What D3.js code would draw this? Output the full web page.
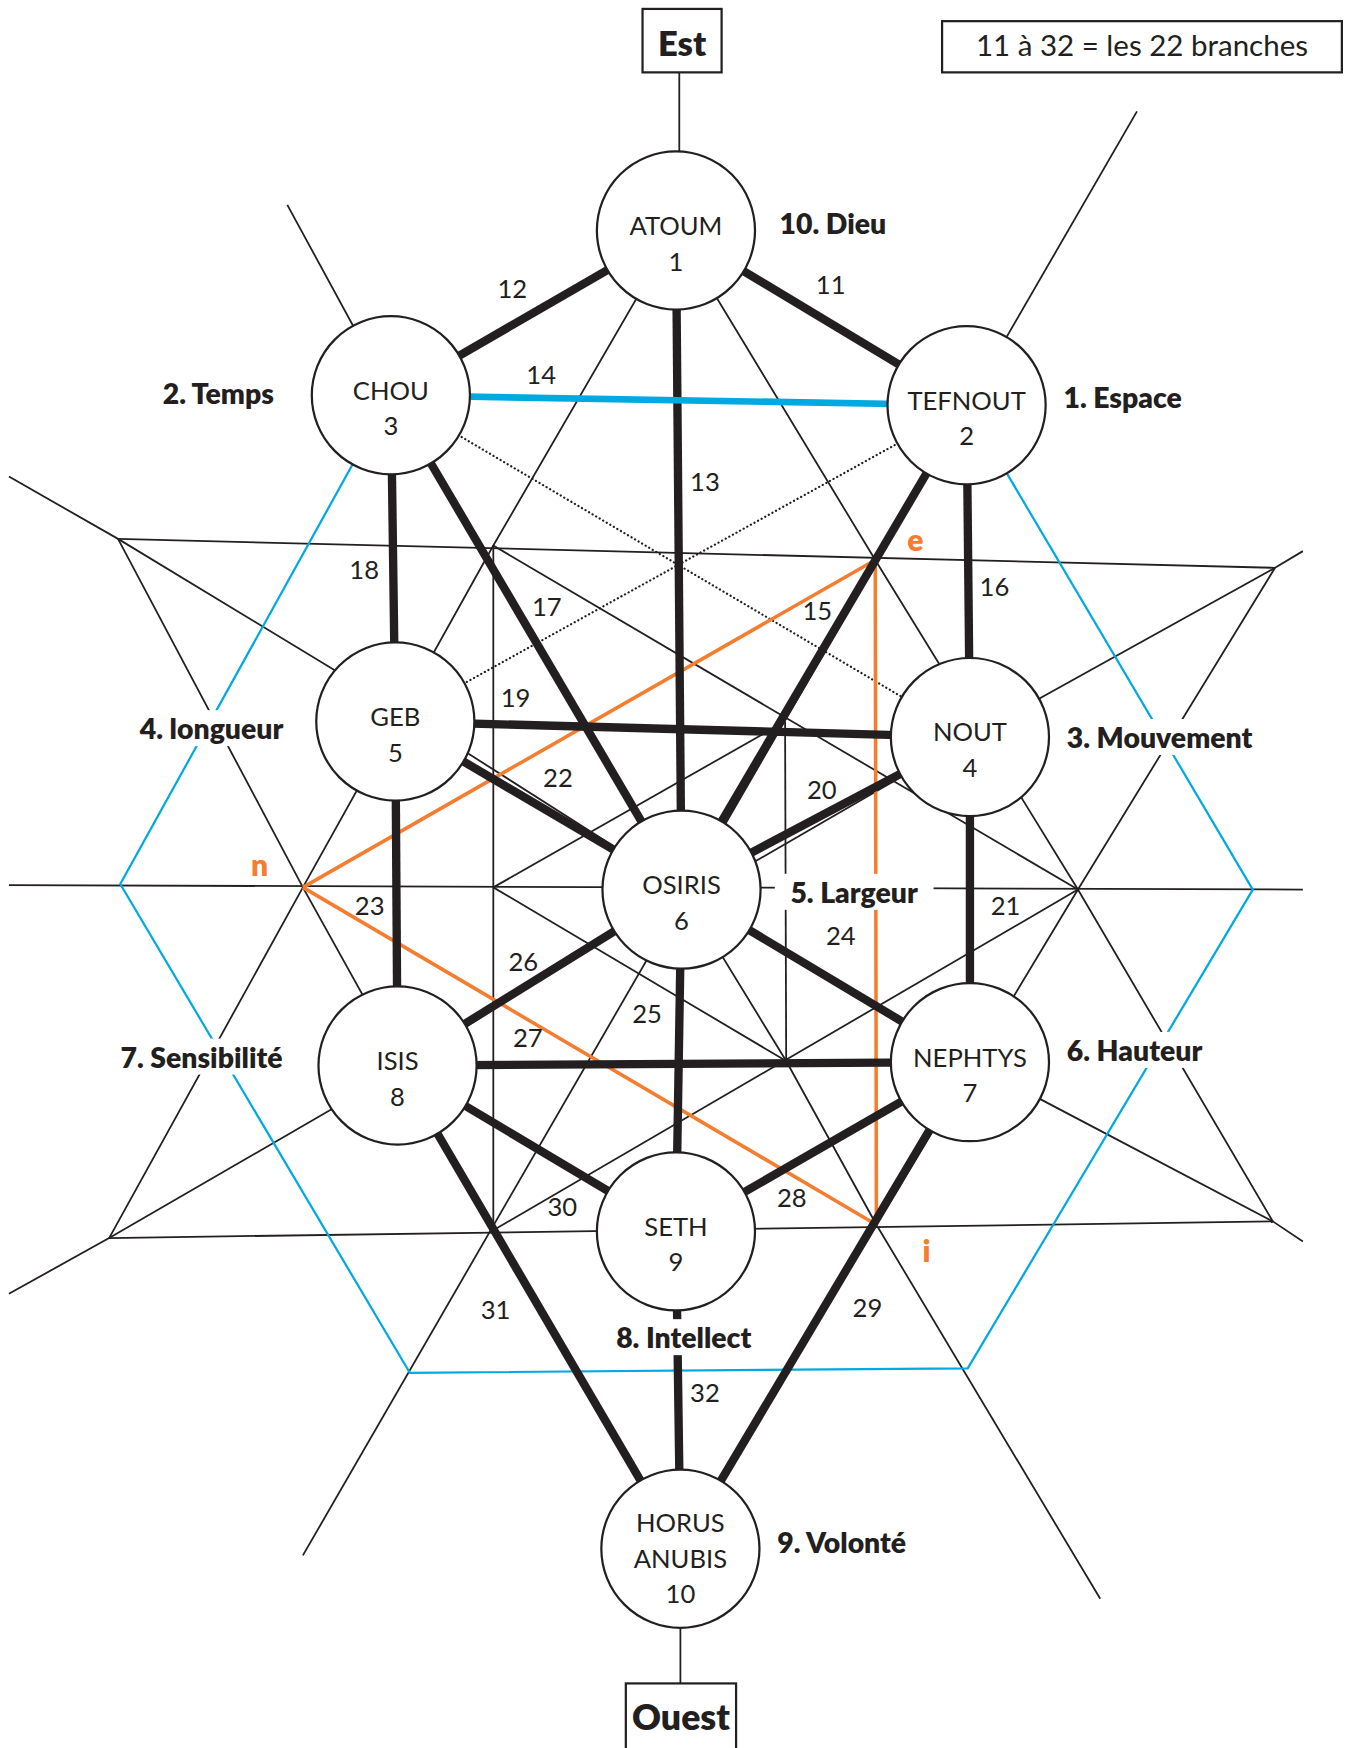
<!DOCTYPE html>
<html>
<head>
<meta charset="utf-8">
<script src="https://cdn.jsdelivr.net/npm/d3@7"></script>
<style>
  body { margin: 0; background: #fff; }
  text { font-family: Lato, "Open Sans", sans-serif; fill: #231f20; }
</style>
</head>
<body>
<div id="chart"></div>
<script>
// ---- data (diagram units) ----
var nodeIds = [1, 2, 3, 4, 5, 6, 7, 8, 9, 10];
var nodeNames = ["ATOUM", "TEFNOUT", "CHOU", "NOUT", "GEB", "OSIRIS", "NEPHTYS", "ISIS", "SETH", "HORUS|ANUBIS"];
var nodeX = [607, 868, 351, 871, 355, 612, 871, 357, 607, 611];
var nodeY = [207, 364, 355, 662, 648, 799, 954, 957, 1106, 1391];

// the 22 branches: number, from node, to node
var branchNum  = [11, 12, 13, 14, 15, 16, 17, 18, 19, 20, 21, 22, 23, 24, 25, 26, 27, 28, 29, 30, 31, 32];
var branchFrom = [1, 1, 1, 3, 2, 2, 3, 3, 5, 4, 4, 5, 5, 6, 6, 6, 8, 7, 7, 8, 8, 9];
var branchTo   = [2, 3, 6, 2, 6, 4, 6, 5, 4, 6, 7, 6, 8, 7, 9, 8, 7, 9, 10, 9, 10, 10];
var branchLabelX = [746, 460, 633, 486, 734, 893, 491, 327, 463, 738, 903, 501, 332, 755, 581, 470, 474, 711, 779, 505, 445, 633];
var branchLabelY = [255, 259, 432, 336, 548, 526, 544, 511, 626, 709, 813, 698, 813, 840, 910, 863, 931, 1075, 1174, 1083, 1176, 1250];

// construction points of the hexagrams
var guideKeys = ["A", "B", "C", "D", "n", "R", "e", "i", "P1", "P2", "P3", "Q1", "Q2",
                 "H0", "H1", "X0", "X1", "Y0", "Y1", "L1a", "L1b", "L2a", "L2b",
                 "G1", "S1", "S2", "O6",
                 "BL", "BBL", "BBR", "BR", "E0", "E1", "O0", "O1"];
var guideX = [106, 1145, 98, 1143, 272, 968, 786, 787, 443, 443, 443, 705, 706,
              8, 1170, 8, 1170, 8, 1170, 258, 988, 1021, 272,
              355, 357, 612, 612,
              108, 368, 869, 1125, 610, 610, 611, 611];
var guideY = [484, 510, 1112, 1097, 797, 799, 503, 1100, 490, 797, 1105, 648, 953,
              795, 799, 428, 1115, 1162, 495, 184, 1436, 100, 1397,
              635, 962, 797, 812,
              794, 1233, 1229, 799, 65, 150, 1512, 1440];

var thinPaths = [
  ["N1", "P1", "n", "C"], ["N1", "e", "R", "D"],
  ["A", "n", "P3", "N10"], ["B", "R", "i", "N10"],
  ["A", "B"], ["C", "D"], ["H0", "H1"],
  ["X0", "A", "G1", "N6", "N7", "D", "X1"],
  ["Y0", "C", "S1", "S2", "N4", "B", "Y1"],
  ["L1a", "N3", "N6", "Q2", "i", "L1b"], ["L2a", "L2b"],
  ["P1", "P3"], ["P1", "R"], ["P3", "R"], ["P2", "Q1"], ["P2", "Q2"], ["Q1", "Q2"],
  ["O6", "N4"],
  ["E0", "E1"], ["O1", "O0"]
];
var dottedPaths = [["N3", "N4"], ["N2", "N5"]];
var orangePaths = [["n", "e", "i", "n"]];
var bluePaths = [["N3", "BL", "BBL", "BBR", "BR", "N2"]];

var qualityText = ["10. Dieu", "2. Temps", "1. Espace", "4. longueur", "3. Mouvement", "5. Largeur",
                   "7. Sensibilité", "6. Hauteur", "8. Intellect", "9. Volonté"];
var qualityX = [700, 246, 955, 190, 958, 767, 181, 958, 614, 698];
var qualityY = [200, 353, 357, 654, 662, 801, 949, 943, 1201, 1385];
var qualityAnchor = ["start", "end", "start", "middle", "start", "middle", "middle", "start", "middle", "start"];
var qualityPad = [4, 4, 4, 5, 5, 14, 5, 5, 5, 4];

var letterText = ["e", "n", "i"];
var letterX = [822, 233, 832];
var letterY = [484, 776, 1123];

// ---- drawing ----
var W = 1353, H = 1748;
var k = W / 1215;
var x = d3.scaleLinear().domain([0, 1215]).range([0, W]);
var y = d3.scaleLinear().domain([0, 1570]).range([0, H]);

var ink = "#231f20", cyan = "#00a9e0", orange = "#f47d30";

var pts = {};
guideKeys.forEach(function (key, j) { pts[key] = [guideX[j], guideY[j]]; });
nodeIds.forEach(function (id, j) { pts["N" + id] = [nodeX[j], nodeY[j]]; });

var line = d3.line()
  .x(function (key) { return x(pts[key][0]); })
  .y(function (key) { return y(pts[key][1]); });

var svg = d3.select("#chart").append("svg")
  .attr("width", W).attr("height", H);

function drawPaths(list, color, width, dash) {
  svg.append("g").selectAll("path")
    .data(list).enter().append("path")
    .attr("d", line)
    .attr("fill", "none")
    .attr("stroke", color)
    .attr("stroke-width", width * k)
    .attr("stroke-dasharray", dash || null)
    .attr("stroke-linecap", dash ? "round" : "butt")
    .attr("stroke-linejoin", "round");
}

drawPaths(thinPaths, ink, 1.6);
drawPaths(dottedPaths, ink, 2, "0.1," + (3.6 * k));
drawPaths(bluePaths, cyan, 2);
drawPaths(orangePaths, orange, 3.2);

// branches
var branches = branchNum.map(function (b, j) {
  return { num: b, a: pts["N" + branchFrom[j]], b: pts["N" + branchTo[j]], lx: branchLabelX[j], ly: branchLabelY[j] };
});
svg.append("g").selectAll("line")
  .data(branches).enter().append("line")
  .attr("x1", function (d) { return x(d.a[0]); })
  .attr("y1", function (d) { return y(d.a[1]); })
  .attr("x2", function (d) { return x(d.b[0]); })
  .attr("y2", function (d) { return y(d.b[1]); })
  .attr("stroke", function (d) { return d.num === 14 ? cyan : ink; })
  .attr("stroke-width", function (d) { return (d.num === 14 ? 6 : 7.5) * k; });

// nodes
var nodes = nodeIds.map(function (id, j) {
  return { id: id, name: nodeNames[j].split("|"), cx: nodeX[j], cy: nodeY[j] };
});
var ng = svg.append("g").selectAll("g")
  .data(nodes).enter().append("g");
ng.append("circle")
  .attr("cx", function (d) { return x(d.cx); })
  .attr("cy", function (d) { return y(d.cy); })
  .attr("r", 71 * k)
  .attr("fill", "#fff")
  .attr("stroke", ink)
  .attr("stroke-width", 2 * k);
ng.each(function (d) {
  var lines = d.name.concat([String(d.id)]);
  var start = lines.length === 3 ? -24 : -5;
  d3.select(this).selectAll("text")
    .data(lines).enter().append("text")
    .attr("x", x(d.cx))
    .attr("y", function (t, j) { return y(d.cy + start + j * 32); })
    .attr("text-anchor", "middle")
    .attr("dominant-baseline", "central")
    .attr("font-size", 23 * k)
    .text(function (t) { return t; });
});

// branch numbers
svg.append("g").selectAll("text")
  .data(branches).enter().append("text")
  .attr("x", function (d) { return x(d.lx); })
  .attr("y", function (d) { return y(d.ly); })
  .attr("text-anchor", "middle")
  .attr("dominant-baseline", "central")
  .attr("font-size", 23 * k)
  .text(function (d) { return d.num; });

// quality labels with white knock-out
var qg = svg.append("g").selectAll("g")
  .data(qualityText).enter().append("g");
qg.each(function (t, j) {
  var g = d3.select(this);
  var tx = g.append("text")
    .attr("x", x(qualityX[j]))
    .attr("y", y(qualityY[j]))
    .attr("text-anchor", qualityAnchor[j])
    .attr("dominant-baseline", "central")
    .attr("font-size", 25.5 * k)
    .attr("font-weight", 800)
    .text(t);
  var bb = tx.node().getBBox();
  var p = qualityPad[j] * k;
  g.insert("rect", "text")
    .attr("x", bb.x - p).attr("y", bb.y - 1)
    .attr("width", bb.width + 2 * p).attr("height", bb.height + 2)
    .attr("fill", "#fff");
});

// orange letters
svg.append("g").selectAll("text")
  .data(letterText).enter().append("text")
  .attr("x", function (d, j) { return x(letterX[j]); })
  .attr("y", function (d, j) { return y(letterY[j]); })
  .attr("text-anchor", "middle")
  .attr("dominant-baseline", "central")
  .attr("font-size", 27 * k)
  .attr("font-weight", 800)
  .style("fill", orange)
  .text(function (d) { return d; });

// boxes: Est, Ouest, legend
var boxText = ["Est", "Ouest", "11 à 32 = les 22 branches"];
var boxX0 = [577, 562, 846], boxX1 = [648, 661, 1205];
var boxY0 = [8, 1512, 19], boxY1 = [65, 1580, 65];
var boxTy = [38, 1542, 40];
var boxBold = [true, true, false];
var boxSize = [31, 32, 26.5];
var bg = svg.append("g").selectAll("g").data(boxText).enter().append("g");
bg.append("rect")
  .attr("x", function (d, j) { return x(boxX0[j]); })
  .attr("y", function (d, j) { return y(boxY0[j]); })
  .attr("width", function (d, j) { return x(boxX1[j]) - x(boxX0[j]); })
  .attr("height", function (d, j) { return y(boxY1[j]) - y(boxY0[j]); })
  .attr("fill", "#fff")
  .attr("stroke", ink)
  .attr("stroke-width", 2 * k);
bg.append("text")
  .attr("x", function (d, j) { return x((boxX0[j] + boxX1[j]) / 2); })
  .attr("y", function (d, j) { return y(boxTy[j]); })
  .attr("text-anchor", "middle")
  .attr("dominant-baseline", "central")
  .attr("font-size", function (d, j) { return boxSize[j] * k; })
  .attr("font-weight", function (d, j) { return boxBold[j] ? 800 : "normal"; })
  .text(function (d) { return d; });
</script>
</body>
</html>
